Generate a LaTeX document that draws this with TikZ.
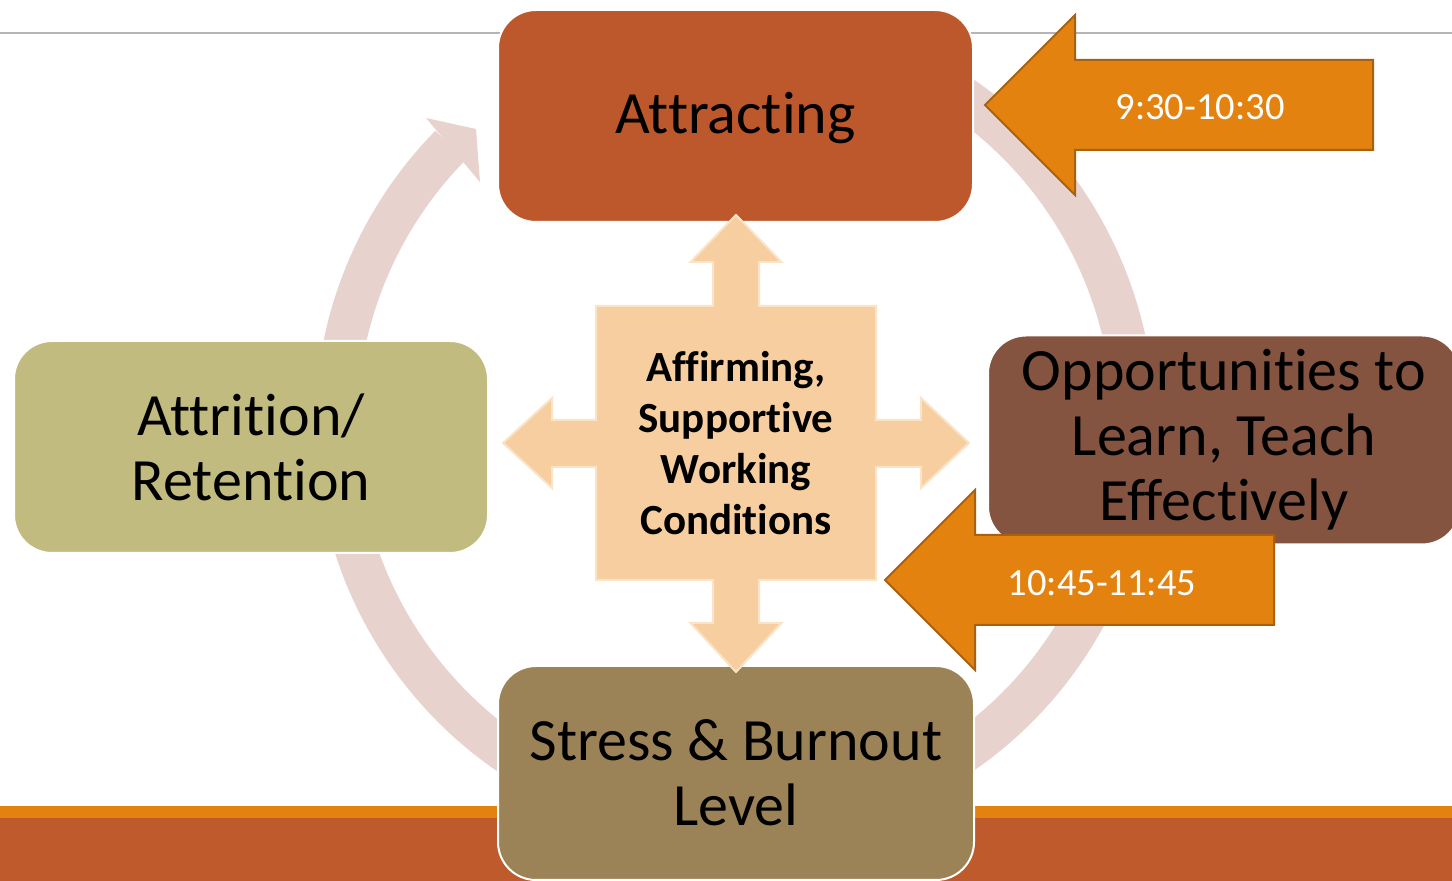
\documentclass[tikz,border=0pt]{standalone}
\usepackage{fontspec}
\setmainfont{Carlito}[Ligatures={NoCommon,NoContextual}]
\definecolor{cAttract}{HTML}{BD582C}
\definecolor{cAttrition}{HTML}{C1BB80}
\definecolor{cOpp}{HTML}{845441}
\definecolor{cStress}{HTML}{9C8357}
\definecolor{cCross}{HTML}{F6CE9F}
\definecolor{cCrossEdge}{HTML}{FBE3C8}
\definecolor{cOrange}{HTML}{E3820F}
\definecolor{cOrangeEdge}{HTML}{A8620F}
\definecolor{cRing}{HTML}{E8D2CE}
\definecolor{cRule}{HTML}{B4B4B4}
\definecolor{cBarBrown}{HTML}{BE5A2C}
\begin{document}
\begin{tikzpicture}[x=1pt,y=1pt,
  box/.style={rounded corners=38pt, draw=white, line width=2pt, inner sep=0pt,
    align=center, text=black, font=\fontsize{60}{65}\selectfont},
  timearrow/.style={fill=cOrange, draw=cOrangeEdge, line width=2pt, line join=miter},
  timetext/.style={text=white, inner sep=0pt, font=\fontsize{38.5}{46}\selectfont},
  centertext/.style={inner sep=0pt, align=center, text=black,
    font=\fontsize{43}{51}\selectfont\bfseries}]
\useasboundingbox (0,0) rectangle (1452,881);
\fill[white] (0,0) rectangle (1452,881);

% header rule and footer bars
\draw[cRule, line width=1.5pt] (0,848) -- (1452,848);
\fill[cBarBrown] (0,0) rectangle (1452,63);
\fill[cOrange] (0,63) rectangle (1452,75);

% circular arrow of the cycle
\draw[cRing, line width=42pt] (934.5,801.5) arc[start angle=60, end angle=-224.5, radius=399];
\fill[cRing] (426,763) -- (476,752) -- (480,699) -- cycle;

% the four stages
\node[box, fill=cAttract, minimum width=475pt, minimum height=212pt,
  text height=46pt, text depth=10pt] (attracting) at (735.5,765) {Attracting};
\node[box, fill=cAttrition, minimum width=474pt, minimum height=212pt] (attrition) at (251,434) {Attrition/\\Retention};
\node[box, fill=cOpp, minimum width=472pt, minimum height=209pt] (opportunities) at (1224,441) {Opportunities to\\Learn, Teach\\Effectively};
\node[box, fill=cStress, minimum width=476pt, minimum height=214pt] (stress) at (736,108) {Stress \& Burnout\\Level};

% four-way arrow in the middle
\draw[fill=cCross, draw=cCrossEdge, line width=2pt]
  (736,666) -- (781.5,619) -- (759,619) -- (759,575) -- (876,575) -- (876,461)
  -- (921,461) -- (921,483) -- (969,438) -- (921,393) -- (921,414) -- (876,414)
  -- (876,301) -- (759,301) -- (759,258) -- (781.5,258) -- (736,209) -- (690.5,258)
  -- (713,258) -- (713,301) -- (596,301) -- (596,414) -- (552,414) -- (552,393)
  -- (503,438) -- (552,483) -- (552,461) -- (596,461) -- (596,575) -- (713,575)
  -- (713,619) -- (690.5,619) -- cycle;
\node[centertext] (conditions) at (736,438) {Affirming,\\Supportive\\Working\\Conditions};

% session time arrows
\draw[timearrow] (985,776) -- (1075,866) -- (1075,821) -- (1373,821) -- (1373,731)
  -- (1075,731) -- (1075,686) -- cycle;
\node[timetext] (morning) at (1200,774) {9:30-10:30};
\draw[timearrow] (885,301) -- (975,391) -- (975,346) -- (1274,346) -- (1274,256)
  -- (975,256) -- (975,211) -- cycle;
\node[timetext] (midday) at (1102,298) {10:45-11:45};
\end{tikzpicture}
\end{document}
